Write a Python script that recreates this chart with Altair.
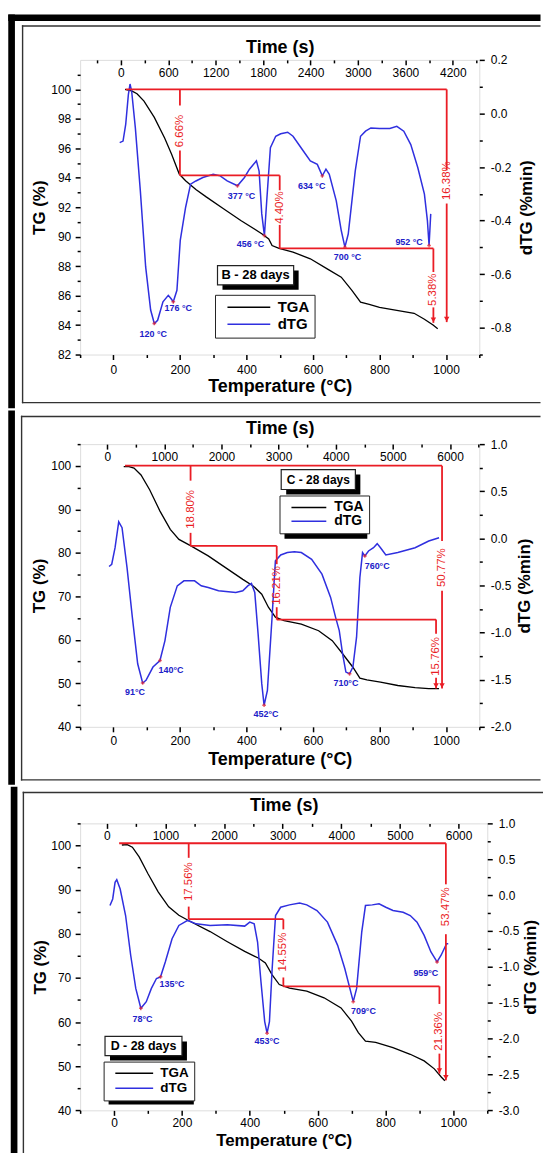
import altair as alt
import pandas as pd

FONT = "Liberation Sans"
NARROW = "Liberation Sans Narrow, Arial Narrow, Liberation Sans"
RED = "#ea1d25"
BLUE = "#2f2fdf"
LBLUE = "#2020c8"

T_DOMAIN = [-100, 1100]
T_TICKS = [0, 200, 400, 600, 800, 1000]
T_MINOR = [-100, 100, 300, 500, 700, 900, 1100]

# ---------------- Panel B ----------------
B_TG_T = [35, 55, 71, 92, 123, 154, 175, 198, 217, 248, 279, 331, 383, 446, 467, 477, 498, 540, 592, 644,
          685, 717, 743, 769, 800, 852, 904, 935, 961, 975]
B_TG = [100.0, 99.9, 99.7, 99.2, 98.1, 96.7, 95.6, 94.25, 93.8, 93.2, 92.7, 91.9, 91.1, 90.2, 89.85, 89.4,
        89.2, 88.95, 88.5, 87.8, 87.25, 86.35, 85.55, 85.4, 85.2, 85.0, 84.8, 84.4, 84.0, 83.75]
B_DTG_T = [19, 29, 37, 45, 50, 55, 66, 81, 97, 112, 123, 133, 149, 165, 173, 180, 191, 201, 217, 232,
           248, 269, 300, 321, 342, 373, 394, 409, 430, 438, 446, 454, 461, 472, 488, 503, 524, 540, 571, 592,
           613, 628, 639, 649, 670, 685, 696, 706, 727, 743, 758, 774, 800, 831, 852, 873, 894, 915, 935, 944,
           949, 954]
B_DTG = [-0.109, -0.103, -0.041, 0.07, 0.11, 0.082, -0.054, -0.289, -0.573, -0.734,
         -0.784, -0.772, -0.703, -0.679, -0.691, -0.703, -0.66, -0.474, -0.351, -0.264,
         -0.252, -0.239, -0.227, -0.233, -0.252, -0.27, -0.239, -0.208, -0.177, -0.215,
         -0.375, -0.456, -0.326, -0.128, -0.085, -0.076, -0.07, -0.085, -0.14, -0.177,
         -0.19, -0.233, -0.208, -0.227, -0.326, -0.437, -0.499, -0.45, -0.215, -0.085,
         -0.066, -0.054, -0.056, -0.056, -0.048, -0.066, -0.116, -0.202, -0.301, -0.4,
         -0.493, -0.375]
B_PEAK_T = [123, 180, 373, 454, 628, 696, 949]
B_PEAK_D = [-0.784, -0.703, -0.27, -0.456, -0.233, -0.499, -0.493]
B_LAB = ["120 °C", "176 °C", "377 °C", "456 °C", "634 °C", "700 °C", "952 °C"]
B_LAB_T = [120, 195, 385, 412, 596, 704, 889]
B_LAB_D = [-0.823, -0.727, -0.31, -0.486, -0.269, -0.535, -0.48]
B_H_Y = [100.0, 94.16, 89.2]
B_H_X1 = [37, 200, 500]
B_H_X2 = [1002, 500, 962]
B_V_X = [200, 200, 500, 500, 962, 962, 1002, 1002]
B_V_Y1 = [100.0, 95.85, 94.16, 90.8, 89.2, 85.2, 100.0, 92.25]
B_V_Y2 = [98.9, 94.16, 93.15, 89.2, 87.6, 84.15, 94.5, 84.2]
B_PCT = ["6.66%", "4.40%", "5.38%", "16.38%"]
B_PCT_T = [200, 500, 962, 1002]
B_PCT_Y = [97.17, 91.97, 86.4, 93.8]
B_ARROW_T = [962, 1002]
B_ARROW_Y = [84.15, 84.2]
B_TG_TICKS = [82, 84, 86, 88, 90, 92, 94, 96, 98, 100]
B_TG_MINOR = [83, 85, 87, 89, 91, 93, 95, 97, 99, 101]
B_D_TICKS = [-0.8, -0.6, -0.4, -0.2, 0.0, 0.2]
B_D_MINOR = [-0.9, -0.7, -0.5, -0.3, -0.1, 0.1]
B_TIME_TICKS = [0, 600, 1200, 1800, 2400, 3000, 3600, 4200]
B_TIME_MINOR = [-300, 300, 900, 1500, 2100, 2700, 3300, 3900, 4500]

# ---------------- Panel C ----------------
C_TG_T = [31, 47, 62, 83, 109, 140, 171, 197, 233, 285, 337, 389, 420, 446, 466, 487, 513, 565, 617, 658,
          689, 720, 741, 762, 803, 855, 907, 948, 979]
C_TG = [99.85, 99.85, 99.5, 97.9, 94.5, 89.6, 85.4, 83.1, 81.6, 79.3, 76.6, 73.9, 72.4, 70.5, 67.5, 65.2,
        64.4, 63.6, 62.1, 59.8, 56.8, 53.7, 51.2, 50.8, 50.3, 49.5, 49.0, 48.8, 48.8]
C_DTG_T = [-13, -5, 5, 16, 26, 41, 57, 73, 88, 98, 119, 140, 155, 171, 192, 212, 244, 264, 285, 316,
           368, 389, 404, 415, 425, 435, 446, 453, 463, 477, 487, 503, 523, 544, 565, 596, 627, 653, 668, 679,
           689, 699, 710, 720, 731, 741, 749, 756, 767, 782, 793, 803, 819, 855, 907, 948, 979]
C_DTG = [-0.299, -0.275, -0.099, 0.176, 0.113, -0.31, -0.838, -1.331, -1.535, -1.507,
         -1.366, -1.296, -1.085, -0.732, -0.504, -0.451, -0.451, -0.504, -0.521, -0.556,
         -0.574, -0.556, -0.504, -0.479, -0.574, -1.014, -1.542, -1.771, -1.613, -0.838,
         -0.239, -0.176, -0.151, -0.141, -0.151, -0.222, -0.38, -0.627, -0.838, -0.979,
         -1.225, -1.419, -1.437, -1.366, -1.049, -0.415, -0.151, -0.187, -0.134, -0.099,
         -0.056, -0.099, -0.176, -0.151, -0.099, -0.028, 0.007]
C_PEAK_T = [88, 140, 453, 710, 756]
C_PEAK_D = [-1.535, -1.296, -1.771, -1.437, -0.187]
C_LAB = ["91°C", "140°C", "452°C", "710°C", "760°C"]
C_LAB_T = [65, 173, 459, 699, 793]
C_LAB_D = [-1.63, -1.394, -1.866, -1.535, -0.292]
C_H_Y = [100.05, 81.6, 64.65]
C_H_X1 = [35, 232, 491]
C_H_X2 = [988, 491, 970]
C_V_X = [232, 232, 491, 491, 970, 970, 988, 988]
C_V_Y1 = [100.05, 84.6, 81.6, 67.5, 64.65, 51.3, 100.05, 71.3]
C_V_Y2 = [96.6, 81.6, 77.4, 64.65, 61.4, 48.8, 82.7, 48.8]
C_PCT = ["18.80%", "16.21%", "15.76%", "50.77%"]
C_PCT_T = [232, 491, 970, 988]
C_PCT_Y = [90.0, 72.5, 56.2, 76.6]
C_ARROW_T = [970, 988]
C_ARROW_Y = [48.8, 48.8]
C_TG_TICKS = [40, 50, 60, 70, 80, 90, 100]
C_TG_MINOR = [45, 55, 65, 75, 85, 95, 105]
C_D_TICKS = [-2.0, -1.5, -1.0, -0.5, 0.0, 0.5, 1.0]
C_D_MINOR = [-1.75, -1.25, -0.75, -0.25, 0.25, 0.75]
C_TIME_TICKS = [0, 1000, 2000, 3000, 4000, 5000, 6000]
C_TIME_MINOR = [500, 1500, 2500, 3500, 4500, 5500, 6500]

# ---------------- Panel D ----------------
D_TG_T = [23, 39, 54, 74, 100, 130, 161, 191, 222, 283, 334, 385, 425, 446, 466, 487, 517, 568, 619, 669,
          700, 720, 741, 771, 822, 873, 914, 944, 965, 975]
D_TG = [100.1, 100.2, 99.6, 97.4, 93.6, 89.5, 86.1, 84.2, 82.9, 80.5, 78.2, 76.0, 74.5, 73.4, 70.7, 68.5,
        67.7, 67.0, 65.5, 63.2, 60.2, 57.6, 55.7, 55.4, 54.2, 52.7, 51.2, 49.4, 47.5, 46.7]
D_DTG_T = [-12, -4, 3, 8, 18, 34, 49, 64, 79, 95, 110, 125, 137, 151, 171, 191, 217, 242, 283, 334,
           385, 400, 413, 423, 433, 444, 451, 458, 466, 476, 491, 517, 547, 568, 598, 629, 659, 680, 695, 705,
           715, 730, 741, 761, 781, 801, 822, 852, 873, 893, 914, 934, 952, 964, 980, 985]
D_DTG = [-0.145, -0.053, 0.178, 0.215, 0.085, -0.284, -0.838, -1.3, -1.577, -1.485,
         -1.3, -1.162, -1.139, -0.931, -0.607, -0.423, -0.353, -0.4, -0.423, -0.413,
         -0.432, -0.376, -0.4, -0.654, -1.208, -1.762, -1.924, -1.762, -1.023, -0.284,
         -0.169, -0.136, -0.109, -0.136, -0.215, -0.376, -0.7, -1.023, -1.3, -1.485,
         -1.3, -0.515, -0.145, -0.136, -0.122, -0.169, -0.215, -0.238, -0.284, -0.376,
         -0.561, -0.792, -0.931, -0.838, -0.677, -0.677]
D_PEAK_T = [79, 137, 451, 705, 952]
D_PEAK_D = [-1.577, -1.139, -1.924, -1.485, -0.931]
D_LAB = ["78°C", "135°C", "453°C", "709°C", "959°C"]
D_LAB_T = [84, 171, 451, 735, 919]
D_LAB_D = [-1.725, -1.24, -2.04, -1.614, -1.083]
D_H_Y = [100.5, 83.3, 68.1]
D_H_X1 = [15, 220, 499]
D_H_X2 = [978, 499, 959]
D_V_X = [220, 220, 499, 499, 959, 959, 978, 978]
D_V_Y1 = [100.5, 86.15, 83.3, 70.1, 68.1, 52.85, 100.5, 79.9]
D_V_Y2 = [97.2, 83.3, 81.0, 68.1, 64.1, 48.3, 91.2, 46.8]
D_PCT = ["17.56%", "14.55%", "21.36%", "53.47%"]
D_PCT_T = [220, 499, 959, 978]
D_PCT_Y = [91.8, 75.85, 57.9, 86.1]
D_ARROW_T = [959, 978]
D_ARROW_Y = [48.3, 46.8]
D_TG_TICKS = [40, 50, 60, 70, 80, 90, 100]
D_TG_MINOR = [45, 55, 65, 75, 85, 95, 105]
D_D_TICKS = [-3.0, -2.5, -2.0, -1.5, -1.0, -0.5, 0.0, 0.5, 1.0]
D_D_MINOR = [-2.75, -2.25, -1.75, -1.25, -0.75, -0.25, 0.25, 0.75]
D_TIME_TICKS = [0, 1000, 2000, 3000, 4000, 5000, 6000]
D_TIME_MINOR = [500, 1500, 2500, 3500, 4500, 5500]

PANELS = [
    dict(name="B - 28 days", w=401, h=296, tg_dom=[82, 102], d_dom=[-0.9, 0.2], time_dom=[-515, 4535],
         tg_T=B_TG_T, tg=B_TG, dtg_T=B_DTG_T, dtg=B_DTG, peak_T=B_PEAK_T, peak_D=B_PEAK_D,
         lab=B_LAB, lab_T=B_LAB_T, lab_D=B_LAB_D, h_y=B_H_Y, h_x1=B_H_X1, h_x2=B_H_X2,
         v_x=B_V_X, v_y1=B_V_Y1, v_y2=B_V_Y2, pct=B_PCT, pct_T=B_PCT_T, pct_Y=B_PCT_Y,
         arr_T=B_ARROW_T, arr_Y=B_ARROW_Y, tg_ticks=B_TG_TICKS, tg_minor=B_TG_MINOR,
         d_ticks=B_D_TICKS, d_minor=B_D_MINOR, time_ticks=B_TIME_TICKS, time_minor=B_TIME_MINOR,
         thick_x=(-72.2, -65.5), thick_y=(-45.7, 350), thick_top=True,
         thin_x=-57.8, thin_top=-34, thin_bottom=344.3, right_end=462.5,
         top_ty=-12.3, bot_ty=31.7, bot_lc=15, bfs=18, ltx=-40.5, rtx=47.2,
         tbox=(138, 206.7, 214.5, 226), tfs=13,
         leg=(135.5, 236), lfs=15, llen=43, loff=43, lrow=1, lshadow=(135.5, 236, 227.8, 274.3)),
    dict(name="C - 28 days", w=401, h=284, tg_dom=[40, 105], d_dom=[-2, 1], time_dom=[-474, 6512],
         tg_T=C_TG_T, tg=C_TG, dtg_T=C_DTG_T, dtg=C_DTG, peak_T=C_PEAK_T, peak_D=C_PEAK_D,
         lab=C_LAB, lab_T=C_LAB_T, lab_D=C_LAB_D, h_y=C_H_Y, h_x1=C_H_X1, h_x2=C_H_X2,
         v_x=C_V_X, v_y1=C_V_Y1, v_y2=C_V_Y2, pct=C_PCT, pct_T=C_PCT_T, pct_Y=C_PCT_Y,
         arr_T=C_ARROW_T, arr_Y=C_ARROW_Y, tg_ticks=C_TG_TICKS, tg_minor=C_TG_MINOR,
         d_ticks=C_D_TICKS, d_minor=C_D_MINOR, time_ticks=C_TIME_TICKS, time_minor=C_TIME_MINOR,
         thick_x=(-72.2, -65.5), thick_y=(-33.7, 342.3), thick_top=False,
         thin_x=-58.8, thin_top=-27.7, thin_bottom=337.3, right_end=462.5,
         top_ty=-16, bot_ty=33.3, bot_lc=14, bfs=18, ltx=-40.6, rtx=45.5,
         tbox=(202, 25.6, 276.5, 45.6), tfs=12,
         leg=(200.3, 51.6), lfs=14, llen=35, loff=36, lrow=0, lshadow=(200.3, 51.6, 283.5, 90)),
    dict(name="D - 28 days", w=409, h=288.3, tg_dom=[40, 105], d_dom=[-3, 1], time_dom=[-455, 6489],
         tg_T=D_TG_T, tg=D_TG, dtg_T=D_DTG_T, dtg=D_DTG, peak_T=D_PEAK_T, peak_D=D_PEAK_D,
         lab=D_LAB, lab_T=D_LAB_T, lab_D=D_LAB_D, h_y=D_H_Y, h_x1=D_H_X1, h_x2=D_H_X2,
         v_x=D_V_X, v_y1=D_V_Y1, v_y2=D_V_Y2, pct=D_PCT, pct_T=D_PCT_T, pct_Y=D_PCT_Y,
         arr_T=D_ARROW_T, arr_Y=D_ARROW_Y, tg_ticks=D_TG_TICKS, tg_minor=D_TG_MINOR,
         d_ticks=D_D_TICKS, d_minor=D_D_MINOR, time_ticks=D_TIME_TICKS, time_minor=D_TIME_MINOR,
         thick_x=(-69.7, -63), thick_y=(-36.7, 333.3), thick_top=False,
         thin_x=-57, thin_top=-31, thin_bottom=None, right_end=465,
         top_ty=-17.7, bot_ty=30.5, bot_lc=12.5, bfs=17, ltx=-39.9, rtx=43.9,
         tbox=(25, 214, 102.3, 233.3), tfs=12.5,
         leg=(23.6, 239.3), lfs=13.5, llen=38, loff=38.4, lrow=0, lshadow=(23.6, 239.3, 109.2, 277.3)),
]

ONE = pd.DataFrame({"k": [0]})
NEG1 = "datum.value < 0 ? '-' + format(-datum.value, '.1f') : format(datum.value, '.1f')"


def ax(orient, values, size, labels=True, **kw):
    base = dict(orient=orient, values=values, tickSize=size, tickWidth=1.5, tickColor="black",
                domain=False, grid=False, labels=labels, labelFont=FONT, labelFontSize=12,
                labelColor="black", labelOverlap=False, labelFlush=False,
                titleFont=FONT, titleColor="black", titleFontWeight="bold")
    base.update(kw)
    return alt.Axis(**base)


def scale(dom):
    return alt.Scale(domain=dom, nice=False, zero=False)


def rect(x1, y1, x2, y2, **kw):
    return alt.Chart(ONE).mark_rect(**kw).encode(
        x=alt.value(x1), x2=alt.value(x2), y=alt.value(y1), y2=alt.value(y2))


def frame(**cols):
    return pd.DataFrame({k: pd.Series(v, dtype="float64") for k, v in cols.items()})


def panel(P):
    W, H = P["w"], P["h"]
    tdom, gdom, ddom, sdom = T_DOMAIN, P["tg_dom"], P["d_dom"], P["time_dom"]

    def XT(f, axis=None):
        return alt.X(f, type="quantitative", scale=scale(tdom), axis=axis)

    def YG(f, axis=None):
        return alt.Y(f, type="quantitative", scale=scale(gdom), axis=axis)

    def YD(f, axis=None):
        return alt.Y(f, type="quantitative", scale=scale(ddom), axis=axis)

    def XS(f, axis=None):
        return alt.X(f, type="quantitative", scale=scale(sdom), axis=axis)

    tg_df = pd.DataFrame({"T": P["tg_T"], "v": P["tg"], "s": "TGA"})
    dtg_df = pd.DataFrame({"T": P["dtg_T"], "v": P["dtg"], "s": "dTG"})

    legend = alt.Legend(orient="none", legendX=P["leg"][0], legendY=P["leg"][1], title=None,
                        strokeColor="#222222", fillColor="white", padding=5,
                        symbolType="M0,0H%g" % P["llen"], symbolSize=4, symbolStrokeWidth=1.5,
                        labelFont=FONT, labelFontSize=P["lfs"], labelFontWeight="bold",
                        labelColor="black", labelOffset=P["loff"], rowPadding=P["lrow"])
    color = alt.Color("s:N", scale=alt.Scale(domain=["TGA", "dTG"], range=["black", BLUE]), legend=legend)

    layers = []
    tx, ty = P["thick_x"], P["thick_y"]
    layers.append(rect(tx[0], ty[0], tx[1], ty[1], color="black"))
    if P["thick_top"]:
        layers.append(rect(tx[0], ty[0], P["right_end"], ty[0] + 6.7, color="black"))
    tb = P["thin_bottom"] if P["thin_bottom"] is not None else ty[1]
    layers.append(rect(P["thin_x"] - 0.7, P["thin_top"] - 0.7, P["thin_x"] + 0.7, tb + 0.7, color="#333333"))
    layers.append(rect(P["thin_x"] - 0.7, P["thin_top"] - 0.7, P["right_end"], P["thin_top"] + 0.7, color="#333333"))
    if P["thin_bottom"] is not None:
        layers.append(rect(P["thin_x"] - 0.7, tb - 0.7, P["right_end"], tb + 0.7, color="#333333"))

    # axis-only layers: minor ticks and the time axis
    layers.append(alt.Chart(tg_df).mark_point(opacity=0, size=1).encode(
        x=XT("T", ax("bottom", T_MINOR, 3, labels=False, title=None)),
        y=YG("v", ax("left", P["tg_minor"], 3, labels=False, title=None))))
    layers.append(alt.Chart(frame(t=P["time_ticks"], d=P["d_minor"])).mark_point(opacity=0, size=1).encode(
        x=XS("t", ax("top", P["time_ticks"], 5, offset=-5, labelPadding=-12.5, labelBaseline="middle",
                     labelExpr="format(datum.value, 'd')",
                     title="Time (s)", titleFontSize=18, titleX=W / 2, titleY=P["top_ty"] - 5,
                     titleBaseline="middle", titleAlign="center")),
        y=YD("d", ax("right", P["d_minor"], 3, labels=False, title=None))))
    layers.append(alt.Chart(frame(t=P["time_minor"], v=P["tg_minor"])).mark_point(opacity=0, size=1).encode(
        x=XS("t", ax("top", P["time_minor"], 3, labels=False, title=None, offset=-3)),
        y=YG("v")))

    # curves
    layers.append(alt.Chart(tg_df).mark_line(strokeWidth=1.3).encode(
        x=XT("T", ax("bottom", T_TICKS, 5, labelPadding=P["bot_lc"] - 5, labelBaseline="middle",
                     labelExpr="format(datum.value, 'd')",
                     title="Temperature (°C)", titleFontSize=P["bfs"], titleX=W / 2, titleY=P["bot_ty"],
                     titleBaseline="middle", titleAlign="center")),
        y=YG("v", ax("left", P["tg_ticks"], 5, labelPadding=4.5, labelExpr="format(datum.value, 'd')",
                     title="TG (%)", titleFontSize=17, titleAngle=270, titleX=P["ltx"], titleY=H / 2,
                     titleBaseline="middle", titleAlign="center")),
        color=color))
    layers.append(alt.Chart(dtg_df).mark_line(strokeWidth=1.5).encode(
        x=XT("T"),
        y=YD("v", ax("right", P["d_ticks"], 5, labelPadding=6, labelExpr=NEG1,
                     title="dTG (%min)", titleFontSize=17, titleAngle=270, titleX=P["rtx"], titleY=H / 2,
                     titleBaseline="middle", titleAlign="center")),
        color=color))

    # red step annotations
    hdf = pd.DataFrame({"y": P["h_y"], "x1": P["h_x1"], "x2": P["h_x2"]})
    vdf = pd.DataFrame({"x": P["v_x"], "y1": P["v_y1"], "y2": P["v_y2"]})
    adf = pd.DataFrame({"x": P["arr_T"], "y": P["arr_Y"]})
    pdf = pd.DataFrame({"x": P["pct_T"], "y": P["pct_Y"], "label": P["pct"]})
    layers.append(alt.Chart(hdf).mark_rule(color=RED, strokeWidth=1.8).encode(
        x=XT("x1"), x2="x2", y=YG("y")))
    layers.append(alt.Chart(vdf).mark_rule(color=RED, strokeWidth=1.8).encode(
        x=XT("x"), y=YG("y1"), y2="y2"))
    layers.append(alt.Chart(adf).mark_point(shape="triangle-down", filled=True, size=30, color=RED,
                                            opacity=1, yOffset=-3).encode(x=XT("x"), y=YG("y")))
    layers.append(alt.Chart(pdf).mark_text(angle=270, color=RED, font=NARROW, fontSize=11.5,
                                           align="center", baseline="middle").encode(
        x=XT("x"), y=YG("y"), text="label:N"))

    # peaks
    kdf = pd.DataFrame({"T": P["peak_T"], "d": P["peak_D"]})
    ldf = pd.DataFrame({"T": P["lab_T"], "d": P["lab_D"], "label": P["lab"]})
    layers.append(alt.Chart(kdf).mark_point(shape="cross", size=14, filled=True, color=RED, opacity=0.7).encode(
        x=XT("T"), y=YD("d")))
    layers.append(alt.Chart(ldf).mark_text(font=FONT, fontSize=9, fontWeight="bold", color=LBLUE,
                                           align="center", baseline="middle").encode(
        x=XT("T"), y=YD("d"), text="label:N"))

    # sample label box and legend shadow
    b = P["tbox"]
    layers.append(rect(b[0] + 5, b[1] + 5, b[2] + 5, b[3] + 5, color="black"))
    layers.append(rect(b[0], b[1], b[2], b[3], fill="white", stroke="#222222", strokeWidth=1.2))
    layers.append(alt.Chart(ONE).mark_text(text=P["name"], font=FONT, fontSize=P["tfs"], fontWeight="bold",
                                           color="black", align="center", baseline="middle").encode(
        x=alt.value((b[0] + b[2]) / 2), y=alt.value((b[1] + b[3]) / 2)))
    s = P["lshadow"]
    layers.append(rect(s[0] + 5, s[1] + 5, s[2] + 5, s[3] + 5, color="black"))

    return alt.layer(*layers).resolve_scale(x="independent", y="independent").properties(width=W, height=H)


chart = alt.vconcat(*[panel(P) for P in PANELS], spacing=0).resolve_scale(
    color="independent").properties(
    padding={"left": 7.5, "top": 10.5, "right": 0, "bottom": 0}
).configure_view(stroke="black", strokeWidth=2).configure(font=FONT)

chart.save("out.html", embed_options={"renderer": "svg", "actions": False})
